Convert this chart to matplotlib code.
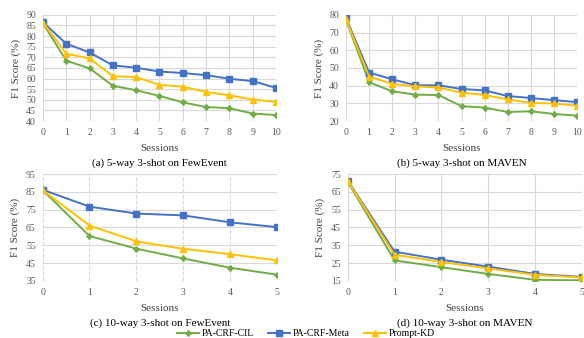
import numpy as np
import matplotlib
matplotlib.use('Agg')
import matplotlib.pyplot as plt

plt.rcParams['font.family'] = ['Liberation Serif', 'DejaVu Serif']

# session indices
sessions_10 = list(range(11))
sessions_5 = list(range(6))

# (a) 5-way 3-shot on FewEvent
a_cil = [86.0, 68.4, 64.8, 56.6, 54.5, 51.8, 48.8, 46.6, 46.0, 43.5, 42.8]
a_meta = [86.5, 76.4, 72.3, 66.2, 65.1, 63.3, 62.6, 61.6, 59.9, 58.8, 55.6]
a_kd = [86.3, 71.7, 69.5, 61.1, 60.7, 57.0, 56.2, 53.7, 52.1, 50.1, 49.0]

# (b) 5-way 3-shot on MAVEN
b_cil = [77.2, 41.9, 36.8, 34.9, 34.7, 28.4, 27.6, 25.1, 25.5, 24.0, 23.0]
b_meta = [78.2, 47.4, 43.6, 40.2, 40.2, 38.1, 37.3, 34.1, 33.0, 31.8, 30.7]
b_kd = [77.5, 45.1, 41.0, 39.6, 39.0, 36.0, 34.7, 32.2, 30.3, 29.9, 28.6]

# (c) 10-way 3-shot on FewEvent
c_cil = [86.0, 60.2, 53.1, 47.6, 42.4, 38.5]
c_meta = [86.2, 76.7, 72.8, 71.8, 67.9, 65.2]
c_kd = [86.0, 66.1, 57.2, 53.0, 50.0, 46.5]

# (d) 10-way 3-shot on MAVEN
d_cil = [70.6, 26.5, 22.7, 18.9, 15.6, 15.3]
d_meta = [71.3, 31.4, 26.9, 23.0, 18.9, 17.2]
d_kd = [71.0, 29.7, 25.6, 22.0, 18.4, 16.9]

names = ['PA-CRF-CIL', 'PA-CRF-Meta', 'Prompt-KD']
colors = ['#70AD47', '#4472C4', '#FFC000']
markers = ['P', 's', '^']
msizes = [3.5, 5, 4.5]

panels = [
    ([0.0736, 0.642, 0.399, 0.314], sessions_10, [a_cil, a_meta, a_kd], (40, 90), 5,
     '(a) 5-way 3-shot on FewEvent', '-'),
    ([0.5925, 0.642, 0.3955, 0.314], sessions_10, [b_cil, b_meta, b_kd], (20, 80), 10,
     '(b) 5-way 3-shot on MAVEN', '-'),
    ([0.073, 0.169, 0.401, 0.316], sessions_5, [c_cil, c_meta, c_kd], (35, 95), 10,
     '(c) 10-way 3-shot on FewEvent', '--'),
    ([0.5954, 0.169, 0.401, 0.316], sessions_5, [d_cil, d_meta, d_kd], (15, 75), 10,
     '(d) 10-way 3-shot on MAVEN', '-'),
]

fig = plt.figure(figsize=(5.84, 3.38), dpi=100)

handles = []
for rect, x, series, ylim, ystep, caption, vgrid in panels:
    ax = fig.add_axes(rect)
    for vals, name, c, m, ms in zip(series, names, colors, markers, msizes):
        h, = ax.plot(x, vals, color=c, marker=m, markersize=ms, linewidth=1.4,
                     label=name, zorder=3)
        if len(handles) < 3:
            handles.append(h)
    ax.set_xlim(x[0], x[-1])
    ax.set_ylim(*ylim)
    ax.set_xticks(x)
    ax.set_yticks(np.arange(ylim[0], ylim[1] + 0.1, ystep))
    ax.grid(axis='y', color='#D9D9D9', linewidth=0.8)
    ax.grid(axis='x', color='#D9D9D9', linewidth=0.8, linestyle=vgrid)
    for s in ax.spines.values():
        s.set_visible(False)
    ax.tick_params(length=0, labelsize=7, colors='#595959', pad=5)
    ax.set_ylabel('F1 Score (%)', fontsize=8, color='#404040', labelpad=4)
    ax.set_xlabel('Sessions', fontsize=8, color='#404040', labelpad=5)
    ax.text(0.5, -0.395, caption, transform=ax.transAxes, ha='center', va='center',
            fontsize=8, color='black')

fig.legend(handles=handles, labels=names, loc='center', bbox_to_anchor=(0.524, 0.012),
           ncol=3, frameon=False, fontsize=7, handlelength=2.2, columnspacing=1.5,
           handletextpad=0.3)

fig.savefig('out.png', dpi=100)
